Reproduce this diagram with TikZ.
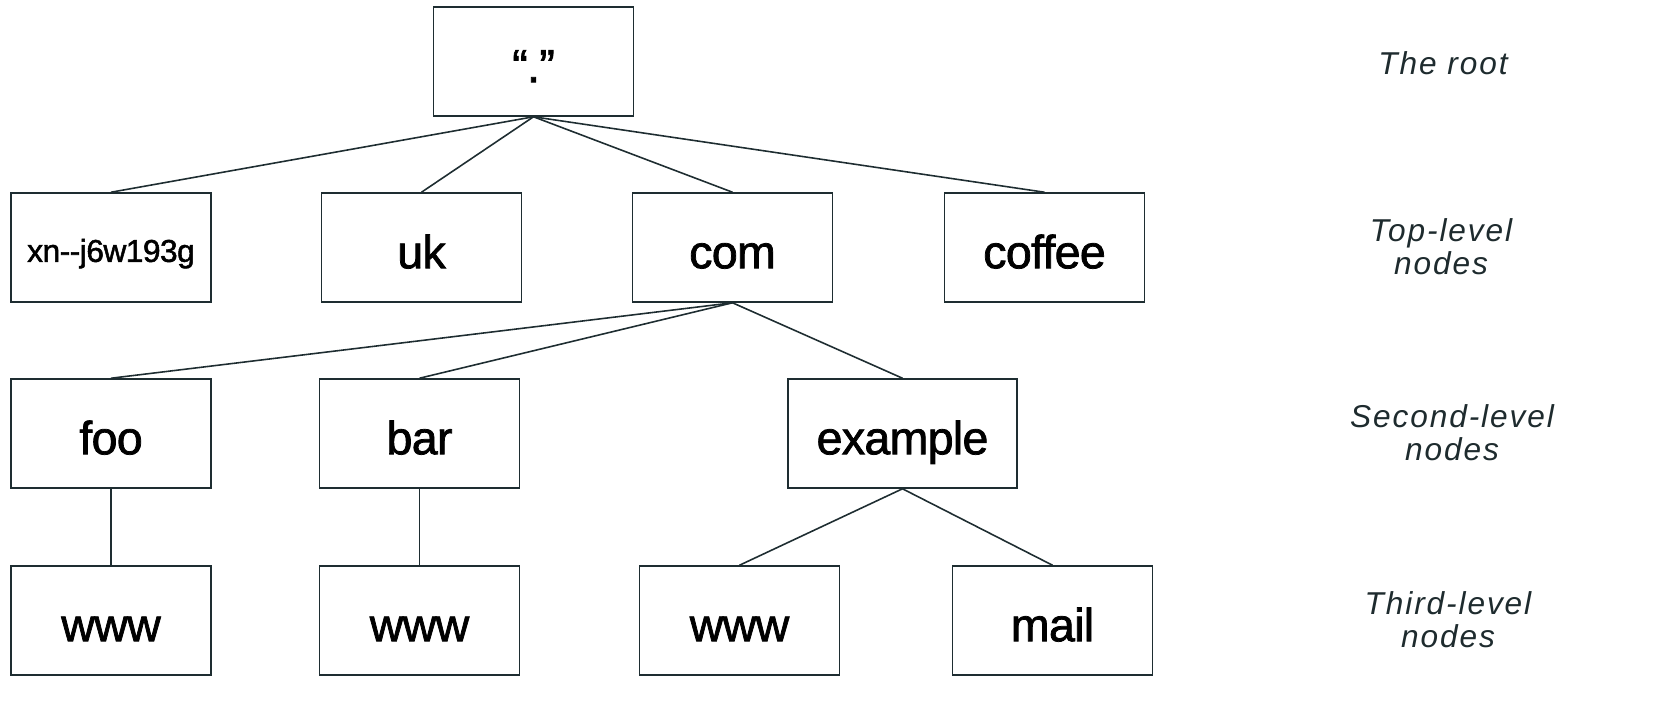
\documentclass[tikz,border=0pt]{standalone}
\usepackage{fontspec}
\setmainfont{Liberation Sans}
\newfontfamily\boxfont{Liberation Sans}[FakeBold=1.6, LetterSpace=-1.5]
\definecolor{inkline}{HTML}{1E2D31}
\definecolor{inktext}{HTML}{1E2B2E}
\begin{document}
\begin{tikzpicture}[x=0.02cm, y=-0.02cm,
        label/.style={font=\boxfont\fontsize{26.5}{30}\selectfont, text=black, inner sep=0pt, text height=23.6pt, text depth=0pt},
        dnsbox/.style={draw=inkline, line width=0.9pt, minimum width=4cm, minimum height=2.18cm, label},
        levelnote/.style={align=center, text=inktext, font=\fontsize{18}{19}\selectfont\itshape\addfontfeatures{LetterSpace=6}}]
    \useasboundingbox (0,0) rectangle (1671,721);
    % the root
    \node[dnsbox] (root) at (533.5, 61.5) {“.”};
    % top-level
    \node[dnsbox, font=\boxfont\fontsize{18}{20}\selectfont, text height=16.4pt] (xn) at (111, 247.5) {xn-{}-j6w193g};
    \node[dnsbox] (uk) at (421.5, 247.5) {uk};
    \node[dnsbox] (com) at (732.5, 247.5) {com};
    \node[dnsbox] (coffee) at (1044.5, 247.5) {coffee};
    % second-level
    \node[dnsbox] (foo) at (111, 433.5) {foo};
    \node[dnsbox] (bar) at (419.5, 433.5) {bar};
    \node[dnsbox, minimum width=4.58cm] (example) at (902.5, 433.5) {example};
    % third-level
    \node[dnsbox] (foowww) at (111, 620.5) {www};
    \node[dnsbox] (barwww) at (419.5, 620.5) {www};
    \node[dnsbox] (examplewww) at (739.5, 620.5) {www};
    \node[dnsbox] (mail) at (1052.5, 620.5) {mail};

    \draw[inkline, line width=0.9pt] (root.south) -- (xn.north);
    \draw[inkline, line width=0.9pt] (root.south) -- (uk.north);
    \draw[inkline, line width=0.9pt] (root.south) -- (com.north);
    \draw[inkline, line width=0.9pt] (root.south) -- (coffee.north);
    \draw[inkline, line width=0.9pt] (com.south) -- (foo.north);
    \draw[inkline, line width=0.9pt] (com.south) -- (bar.north);
    \draw[inkline, line width=0.9pt] (com.south) -- (example.north);
    \draw[inkline, line width=0.9pt] (foo.south) -- (foowww.north);
    \draw[inkline, line width=0.9pt] (bar.south) -- (barwww.north);
    \draw[inkline, line width=0.9pt] (example.south) -- (examplewww.north);
    \draw[inkline, line width=0.9pt] (example.south) -- (mail.north);

    \node[levelnote] (rootnote) at (1443, 63) {The root};
    \node[levelnote] (topnote) at (1441, 247) {Top-level\\nodes};
    \node[levelnote] (secondnote) at (1452, 433) {Second-level\\nodes};
    \node[levelnote] (thirdnote) at (1448, 620) {Third-level\\nodes};
\end{tikzpicture}
\end{document}
